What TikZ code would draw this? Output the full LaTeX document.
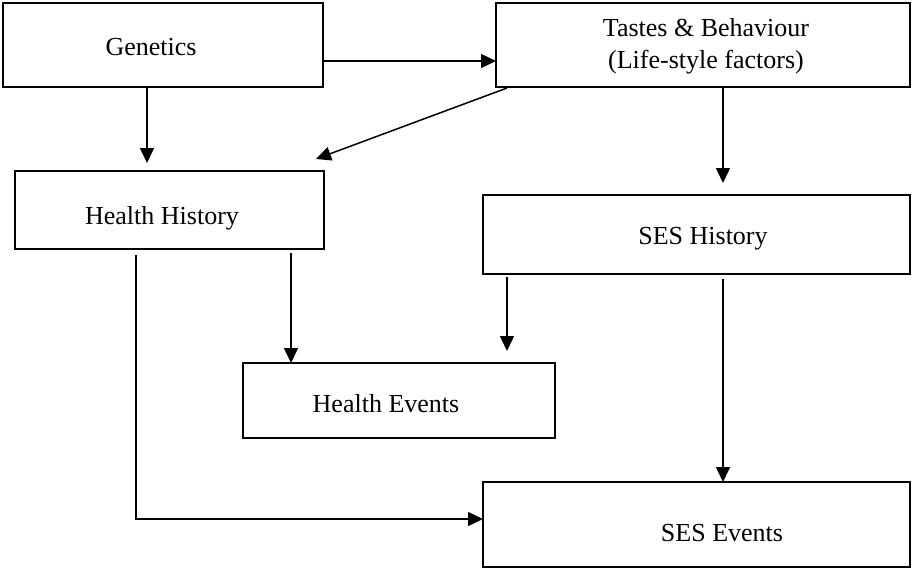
\documentclass[tikz,border=0pt]{standalone}
\usepackage{fontspec}
\setmainfont{Liberation Serif}
\usetikzlibrary{arrows.meta,calc,fit}
\begin{document}
\begin{tikzpicture}[x=0.5pt,y=-0.5pt,
  box/.style={draw=black,line width=1pt,inner sep=0pt,outer sep=0pt,fill=none},
  lbl/.style={font=\fontsize{13}{16}\selectfont,align=center,inner sep=0pt},
  arr/.style={draw=black,line width=0.75pt,-{Triangle[length=7.5pt,width=7pt]}}]
\useasboundingbox (0,0) rectangle (916,569);
% boxes
\node[box,fit={(3,3) (323,87)}] (gen) {};
\node[box,fit={(496,3) (910,87)}] (tas) {};
\node[box,fit={(15,171) (324,249)}] (hh) {};
\node[box,fit={(483,195) (910,274)}] (sh) {};
\node[box,fit={(243,363) (555,438)}] (he) {};
\node[box,fit={(483,482) (910,567)}] (se) {};
% labels
\node[lbl] (genT) at (151,47) {Genetics};
\node[lbl] (tasT) at (706,46) {Tastes \& Behaviour\\(Life-style factors)};
\node[lbl] (hhT) at (162,218) {Health History};
\node[lbl] (shT) at (703,239) {SES History};
\node[lbl] (heT) at (386,404) {Health Events};
\node[lbl] (seT) at (722,533) {SES Events};
% connectors
\draw[arr] ($(gen.east)+(0,16)$) -- ($(tas.west)+(0,16)$);
\draw[arr] ($(gen.south)+(-16,1)$) -- ($(hh.north)+(-22.5,-8)$);
\draw[arr] ($(tas.south west)+(11,1)$) -- ($(hh.north east)+(-8,-12)$);
\draw[arr] ($(tas.south)+(20,1)$) -- ($(sh.north)+(26.5,-12)$);
\draw[arr] ($(hh.south)+(121.5,4)$) -- ($(he.north)+(-108,0)$);
\draw[arr] ($(sh.south west)+(24,3)$) -- ($(he.north east)+(-48,-12)$);
\draw[arr] ($(sh.south)+(26.5,5)$) -- ($(se.north)+(26.5,0)$);
\draw[arr] ($(hh.south west)+(121,6)$) |- ($(se.west)+(0,-5.5)$);
\end{tikzpicture}
\end{document}
